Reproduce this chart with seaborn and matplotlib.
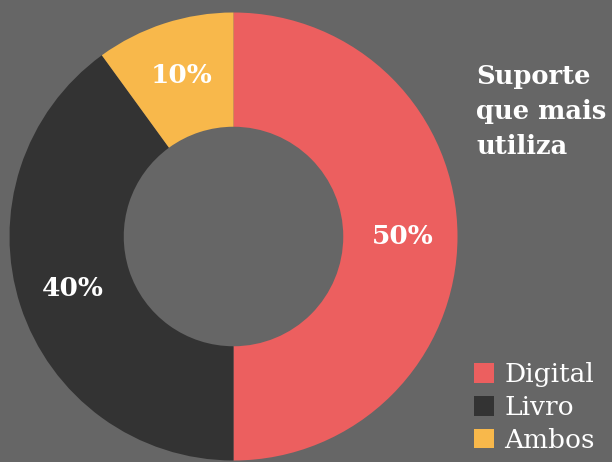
import matplotlib
matplotlib.use("Agg")
import matplotlib.pyplot as plt
import seaborn as sns
from matplotlib.patches import Patch

categories = ["Digital", "Livro", "Ambos"]
values = [50, 40, 10]
colors = ["#EC5F5F", "#333333", "#F8B84B"]
title = "Suporte\nque mais\nutiliza"

BG = "#666666"
sns.set_theme(style="white")
plt.rcParams['font.family'] = ['DejaVu Serif']

W, H = 612, 462
fig = plt.figure(figsize=(W / 100, H / 100), dpi=100, facecolor=BG)
R = 224
cx, cy = 233.5, 462 - 236.5
ax = fig.add_axes([(cx - R) / W, (cy - R) / H, 2 * R / W, 2 * R / H])
ax.set_facecolor(BG)

wedges, texts, autotexts = ax.pie(
    values, colors=colors, startangle=90, counterclock=False,
    radius=1, wedgeprops=dict(width=0.51, edgecolor="none"),
    autopct=lambda p: f"{p:.0f}%", pctdistance=0.755,
    textprops=dict(color="white", fontsize=19, fontweight="bold"))
ax.set_xlim(-1, 1)
ax.set_ylim(-1, 1)
ax.axis("off")

fig.text(476 / W, 1 - 64 / H, title, ha="left", va="top", color="white",
         fontsize=18.5, fontweight="bold", linespacing=1.5)

handles = [Patch(facecolor=c, edgecolor="none") for c in colors]
leg = fig.legend(handles, categories, loc="lower left",
                 bbox_to_anchor=(474 / W, 9 / H), frameon=False,
                 fontsize=19, handlelength=0.75, handleheight=0.75,
                 handletextpad=0.4, labelspacing=0.3,
                 borderaxespad=0, borderpad=0)
for t in leg.get_texts():
    t.set_color("white")

fig.savefig("out.png", dpi=100, facecolor=BG)
